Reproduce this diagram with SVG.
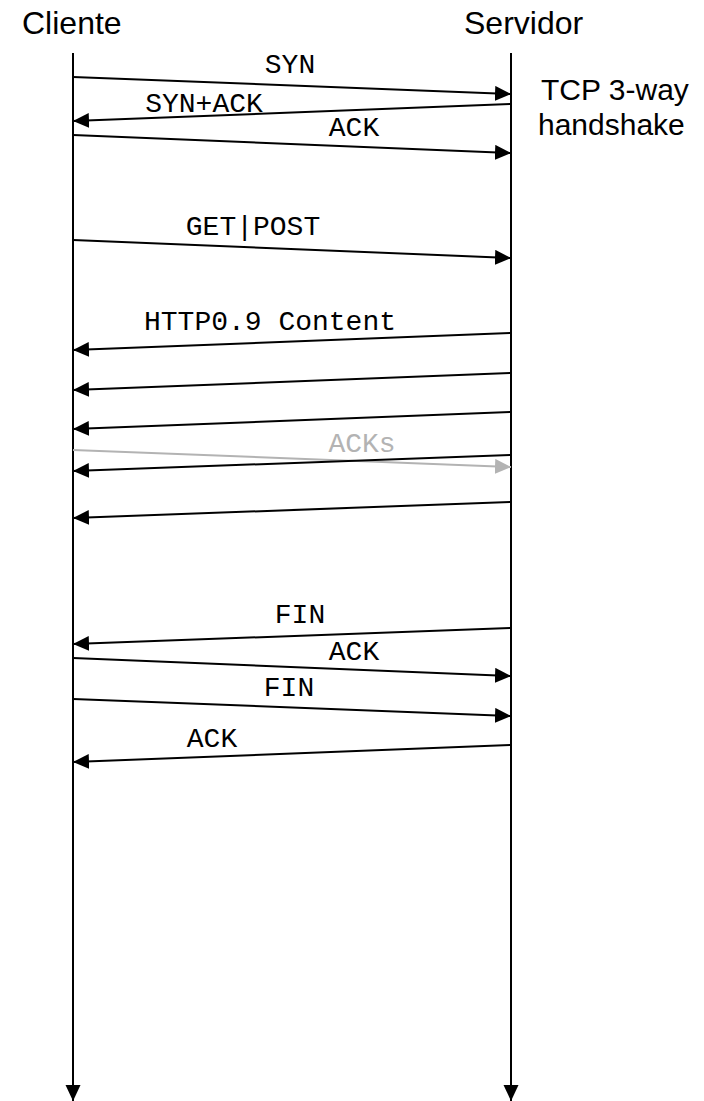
<svg xmlns="http://www.w3.org/2000/svg" width="704" height="1101" viewBox="0 0 704 1101">
<style>
.title{font-family:"Liberation Sans",Arial,sans-serif;font-size:32px;fill:#000}
.note{font-family:"Liberation Sans",Arial,sans-serif;font-size:30px;fill:#000}
.lbl{font-family:"Liberation Mono","Courier New",monospace;font-size:28px;fill:#000;text-anchor:middle}
.gray{fill:#b3b3b3}
.msg{stroke:#000;stroke-width:2;fill:none;marker-end:url(#ah)}
.msgg{stroke:#b3b3b3;stroke-width:2;fill:none;marker-end:url(#ahg)}
.life{stroke:#000;stroke-width:2;fill:none;marker-end:url(#ah)}
</style>
<defs>
<marker id="ah" markerUnits="userSpaceOnUse" markerWidth="17" markerHeight="16" refX="16" refY="7.5" orient="auto"><path d="M0,0 L16,7.5 L0,15 z" fill="#000"/></marker>
<marker id="ahg" markerUnits="userSpaceOnUse" markerWidth="17" markerHeight="16" refX="16" refY="7.5" orient="auto"><path d="M0,0 L16,7.5 L0,15 z" fill="#b3b3b3"/></marker>
</defs>
<rect width="704" height="1101" fill="#fff"/>
<g id="cliente">
<text class="title" x="22" y="34">Cliente</text>
</g>
<g id="servidor">
<text class="title" x="464" y="34">Servidor</text>
</g>
<g id="handshake-note">
<text class="note" x="541" y="100">TCP 3-way</text>
<text class="note" x="538" y="135">handshake</text>
</g>
<g id="lifelines">
<line class="life" x1="73" y1="53" x2="73" y2="1101"/>
<line class="life" x1="511" y1="53" x2="511" y2="1101"/>
</g>
<g id="connectors">
<line class="msg" x1="73" y1="77" x2="511" y2="94"/>
<line class="msg" x1="511" y1="104" x2="73" y2="121"/>
<line class="msg" x1="73" y1="135" x2="511" y2="153"/>
<line class="msg" x1="73" y1="240" x2="511" y2="258"/>
<line class="msg" x1="511" y1="333" x2="73" y2="350"/>
<line class="msg" x1="511" y1="373" x2="73" y2="390"/>
<line class="msg" x1="511" y1="412" x2="73" y2="429"/>
<line class="msgg" x1="73" y1="450" x2="511" y2="467"/>
<line class="msg" x1="511" y1="455" x2="73" y2="471"/>
<line class="msg" x1="511" y1="502" x2="73" y2="518"/>
<line class="msg" x1="511" y1="628" x2="73" y2="644"/>
<line class="msg" x1="73" y1="658" x2="511" y2="676"/>
<line class="msg" x1="73" y1="699" x2="511" y2="716"/>
<line class="msg" x1="511" y1="745" x2="73" y2="762"/>
</g>
<g id="labels">
<text class="lbl" x="290" y="73">SYN</text>
<text class="lbl" x="204" y="112">SYN+ACK</text>
<text class="lbl" x="354" y="136">ACK</text>
<text class="lbl" x="253" y="235">GET|POST</text>
<text class="lbl" x="270" y="330">HTTP0.9 Content</text>
<text class="lbl gray" x="362" y="452">ACKs</text>
<text class="lbl" x="300" y="623">FIN</text>
<text class="lbl" x="354" y="660">ACK</text>
<text class="lbl" x="289" y="696">FIN</text>
<text class="lbl" x="212" y="747">ACK</text>
</g>
</svg>
